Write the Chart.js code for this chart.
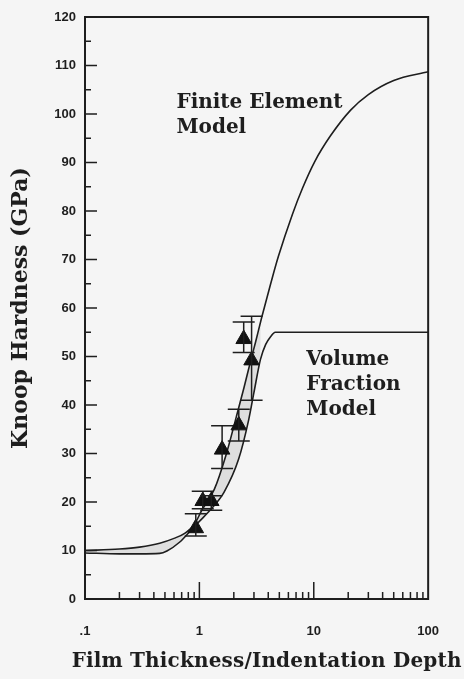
<!DOCTYPE html>
<html>
<head>
<meta charset="utf-8">
<script src="https://cdn.jsdelivr.net/npm/chart.js@4.4.1/dist/chart.umd.min.js"></script>
<style>
  html, body { margin: 0; padding: 0; background: #f5f5f5; }
  canvas { display: block; }
</style>
</head>
<body>
<canvas id="grafica" width="464" height="679"></canvas>
<script>
// datos
const feX = [0.1, 0.2, 0.3, 0.45, 0.6, 0.75, 0.9, 1.05, 1.35, 1.7, 2.1, 2.45, 2.8, 3.1, 3.5, 4.2, 4.9, 6.5, 8, 10.2, 14, 21, 30, 50, 100];
const feY = [10, 10.3, 10.7, 11.5, 12.5, 13.6, 15.3, 18.3, 22.6, 29.5, 37.5, 43.5, 49, 53, 58, 65, 70.6, 79.3, 84.8, 90.2, 95.5, 100.8, 104, 106.9, 108.7];

const vfX = [0.1, 0.2, 0.3, 0.45, 0.52, 0.67, 0.86, 1.0, 1.26, 1.64, 2.2, 2.7, 3.0, 3.42, 3.8, 4.2, 4.6, 6, 10, 30, 100];
const vfY = [9.5, 9.3, 9.3, 9.4, 9.9, 11.7, 14.4, 16, 18.5, 22, 28.8, 37, 42.6, 49.4, 52.5, 54.1, 55, 55, 55, 55, 55];

const ptX = [0.93, 1.07, 1.27, 1.58, 2.21, 2.44, 2.86];
const ptY = [14.6, 20.2, 20.2, 30.8, 35.8, 53.6, 49.2];
const errHi = [17.6, 22.2, 21.3, 35.7, 39.1, 57.1, 58.3];
const errLo = [13.0, 18.6, 18.3, 26.9, 32.6, 50.8, 41.0];

const xTicks = [0.1, 1, 10, 100];
const xTickLabels = [".1", "1", "10", "100"];
const yTicks = [0, 10, 20, 30, 40, 50, 60, 70, 80, 90, 100, 110, 120];

const shadeLimitFE = 3.5;
const shadeLimitVF = 3.42;

const xTitle = "Film Thickness/Indentation Depth";
const yTitle = "Knoop Hardness (GPa)";

const notes = [
  { lines: ["Finite Element", "Model"], x: 0.63, y: 101.2 },
  { lines: ["Volume", "Fraction", "Model"], x: 8.6, y: 48.2 }
];

const ink = "#1e1e1e";
const toXY = (xs, ys) => xs.map((x, i) => ({ x: x, y: ys[i] }));

// marco, marcas hacia adentro, barras de error y rotulos
const extras = {
  id: "extras",
  afterDatasetsDraw(chart) {
    const { ctx, scales: { x, y } } = chart;
    ctx.save();
    ctx.strokeStyle = ink;
    ctx.lineWidth = 1.5;
    ptX.forEach((v, i) => {
      const px = x.getPixelForValue(v);
      const top = y.getPixelForValue(errHi[i]);
      const bot = y.getPixelForValue(errLo[i]);
      ctx.beginPath();
      ctx.moveTo(px, top); ctx.lineTo(px, bot);
      ctx.moveTo(px - 11, top); ctx.lineTo(px + 11, top);
      ctx.moveTo(px - 11, bot); ctx.lineTo(px + 11, bot);
      ctx.stroke();
    });
    ctx.restore();
  },
  afterDraw(chart) {
    const { ctx, chartArea: a, scales: { x, y } } = chart;
    ctx.save();
    ctx.strokeStyle = ink;
    ctx.lineWidth = 2;
    ctx.strokeRect(a.left, a.top, a.right - a.left, a.bottom - a.top);

    ctx.lineWidth = 1.5;
    ctx.beginPath();
    yTicks.forEach(v => {
      const py = y.getPixelForValue(v);
      ctx.moveTo(a.left, py); ctx.lineTo(a.left + 12, py);
      if (v < 120) {
        const pm = y.getPixelForValue(v + 5);
        ctx.moveTo(a.left, pm); ctx.lineTo(a.left + 6, pm);
      }
    });
    [0.1, 1, 10].forEach(d => {
      for (let m = 2; m <= 9; m++) {
        const px = x.getPixelForValue(d * m);
        ctx.moveTo(px, a.bottom); ctx.lineTo(px, a.bottom - 7);
      }
    });
    [1, 10].forEach(v => {
      const px = x.getPixelForValue(v);
      ctx.moveTo(px, a.bottom); ctx.lineTo(px, a.bottom - 17);
    });
    ctx.stroke();

    ctx.fillStyle = ink;
    ctx.font = "bold 20px 'DejaVu Serif'";
    ctx.textAlign = "left";
    ctx.textBaseline = "alphabetic";
    notes.forEach(n => {
      const px = x.getPixelForValue(n.x);
      const py = y.getPixelForValue(n.y);
      n.lines.forEach((t, k) => ctx.fillText(t, px, py + k * 25));
    });

    // titulo del eje x: ancho como en la figura (~390 px)
    const plain = ctx.measureText(xTitle).width;
    const gap = Math.max(0, (390 - plain) / xTitle.length);
    ctx.letterSpacing = gap.toFixed(2) + "px";
    const w = plain + gap * (xTitle.length - 1);
    const cx = (a.left + a.right) / 2 + 10;
    ctx.fillText(xTitle, cx - w / 2, a.bottom + 68);
    ctx.restore();
  }
};

new Chart(document.getElementById("grafica"), {
  type: "line",
  data: {
    datasets: [
      {
        label: "Data",
        data: toXY(ptX, ptY),
        showLine: false,
        pointStyle: "triangle",
        pointRadius: 9,
        pointBackgroundColor: "#111",
        pointBorderColor: "#111",
        pointBorderWidth: 1
      },
      {
        label: "Finite Element Model",
        data: toXY(feX, feY),
        borderColor: ink,
        borderWidth: 1.6,
        pointRadius: 0,
        cubicInterpolationMode: "monotone",
        fill: false
      },
      {
        label: "Volume Fraction Model",
        data: toXY(vfX, vfY),
        borderColor: ink,
        borderWidth: 1.6,
        pointRadius: 0,
        cubicInterpolationMode: "monotone",
        fill: false
      },
      {
        label: "shade",
        data: toXY(feX, feY).filter(p => p.x <= shadeLimitFE),
        borderWidth: 0,
        pointRadius: 0,
        cubicInterpolationMode: "monotone",
        backgroundColor: "rgba(0,0,0,0.09)",
        fill: "+1"
      },
      {
        label: "shade2",
        data: toXY(vfX, vfY).filter(p => p.x <= shadeLimitVF),
        borderWidth: 0,
        pointRadius: 0,
        cubicInterpolationMode: "monotone",
        fill: false
      }
    ]
  },
  options: {
    responsive: false,
    animation: false,
    devicePixelRatio: 1,
    layout: { padding: { top: 17, right: 31, left: 0, bottom: 0 } },
    plugins: { legend: { display: false }, tooltip: { enabled: false } },
    scales: {
      x: {
        type: "logarithmic",
        min: 0.1,
        max: 100,
        grid: { display: false, drawTicks: false },
        border: { display: false },
        afterBuildTicks: scale => { scale.ticks = xTicks.map(v => ({ value: v })); },
        afterFit: scale => { scale.height = 80; },
        ticks: {
          autoSkip: false,
          maxRotation: 0,
          padding: 25,
          color: ink,
          font: { family: "'Liberation Sans'", size: 13, weight: "bold" },
          callback: (value, index) => xTickLabels[index]
        },
        title: { display: false }
      },
      y: {
        min: 0,
        max: 120,
        grid: { display: false, drawTicks: false },
        border: { display: false },
        afterBuildTicks: scale => { scale.ticks = yTicks.map(v => ({ value: v })); },
        afterFit: scale => { scale.width = 85; },
        ticks: {
          padding: 9,
          color: ink,
          font: { family: "'Liberation Sans'", size: 13, weight: "bold" }
        },
        title: {
          display: true,
          text: yTitle,
          color: ink,
          font: { family: "'DejaVu Serif'", size: 22, weight: "bold" },
          padding: { top: 8, bottom: 0 }
        }
      }
    }
  },
  plugins: [extras]
});
</script>
</body>
</html>
